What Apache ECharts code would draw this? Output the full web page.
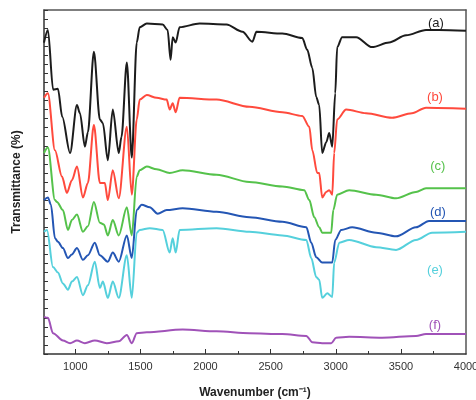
<!DOCTYPE html>
<html><head><meta charset="utf-8">
<script src="https://cdn.jsdelivr.net/npm/echarts@6/dist/echarts.min.js"></script>
<style>html,body{margin:0;padding:0;background:#fff}#c{width:476px;height:400px}</style>
</head><body><div id="c"></div>
<script>
// Spectra: [wavenumber (cm-1), transmittance (offset, arbitrary units)]
const seriesA = [[760,344],[790,358],[830,292],[867,293],[900,262],[960,222],[1013,275],[1036,266],[1074,229],[1097,245],[1143,334],[1189,259],[1212,255],[1250,214],[1288,270],[1334,222],[1355,240],[1396,322],[1434,217],[1472,344],[1495,361],[1549,365],[1671,364],[1709,358],[1732,325],[1748,350],[1771,344],[1801,361],[1955,365],[2161,364],[2284,356],[2360,345],[2391,356],[2590,354],[2743,349],[2781,336],[2820,316],[2850,284],[2873,275],[2896,222],[2927,234],[2950,244],[2973,229],[2996,288],[3011,339],[3049,350],[3157,350],[3279,339],[3409,344],[3540,352],[3693,358],[3792,358],[4000,357]];
const seriesB = [[760,283],[790,288],[844,225],[898,196],[936,178],[974,192],[1013,207],[1059,173],[1097,189],[1143,253],[1189,189],[1227,189],[1250,170],[1288,203],[1334,172],[1396,251],[1434,176],[1472,259],[1495,281],[1549,286],[1625,283],[1702,281],[1725,270],[1748,277],[1771,267],[1801,283],[2085,281],[2337,273],[2590,267],[2743,263],[2797,251],[2820,225],[2858,200],[2873,200],[2896,173],[2927,179],[2950,181],[2973,176],[2988,222],[3011,259],[3080,270],[3233,266],[3432,261],[3585,266],[3693,272],[4000,271]];
const seriesC = [[760,222],[790,228],[844,170],[860,168],[905,159],[944,137],[974,148],[1013,154],[1059,135],[1097,141],[1143,168],[1189,145],[1220,143],[1250,131],[1288,148],[1334,131],[1396,162],[1434,131],[1472,196],[1495,203],[1549,207],[1625,204],[1725,200],[1824,203],[2085,198],[2337,190],[2590,185],[2758,181],[2797,170],[2835,151],[2873,140],[2896,134],[2965,134],[2981,159],[3011,176],[3103,181],[3310,176],[3463,172],[3616,179],[3693,183],[4000,183]];
const seriesD = [[760,170],[790,173],[813,165],[844,128],[867,124],[905,117],[944,106],[974,110],[1013,117],[1059,104],[1097,109],[1150,123],[1189,109],[1250,102],[1288,112],[1334,102],[1396,131],[1434,106],[1472,159],[1510,165],[1572,162],[1633,155],[1702,159],[1824,161],[2085,157],[2337,151],[2590,146],[2774,140],[2812,123],[2850,107],[2896,101],[2973,101],[2996,126],[3042,137],[3126,140],[3310,134],[3463,130],[3616,140],[3716,147],[4000,147]];
const seriesE = [[760,135],[783,137],[829,96],[867,90],[905,78],[944,71],[974,80],[1013,85],[1059,65],[1097,76],[1150,102],[1189,73],[1212,80],[1250,62],[1288,80],[1334,62],[1396,109],[1434,62],[1472,134],[1495,137],[1572,139],[1671,137],[1725,112],[1748,128],[1771,112],[1801,137],[2085,139],[2337,135],[2590,131],[2774,126],[2812,106],[2850,85],[2873,82],[2896,62],[2935,67],[2973,63],[2988,101],[3027,123],[3103,126],[3310,118],[3463,115],[3616,126],[3739,134],[4000,135]];
const seriesF = [[760,41],[790,40],[829,23],[905,15],[960,12],[1013,15],[1074,12],[1150,15],[1242,12],[1334,14],[1396,21],[1434,12],[1472,23],[1549,24],[1824,27],[2085,25],[2337,23],[2590,22],[2774,20],[2820,13],[2896,12],[2965,12],[3003,18],[3103,19],[3356,18],[3616,20],[3693,22],[4000,22]];

const seriesNames = ['(a)','(b)','(c)','(d)','(e)','(f)'];
const seriesColors = ['#1c1c1c','#ff4a3d','#55c24b','#2456b4','#55d0dc','#a052b8'];
const labelX = [3769,3762,3784,3784,3762,3762];
const labelY = [365,283,207,156,92,32];

const xMajorTicks = [1000,1500,2000,2500,3000,3500];
const xMinorTicks = [1250,1750,2250,2750,3250,3750];
const xTickLabels = [1000,1500,2000,2500,3000,3500,4000];

const allData = [seriesA,seriesB,seriesC,seriesD,seriesE,seriesF];
const chart = echarts.init(document.getElementById('c'));
const font = 'Liberation Sans, Arial, sans-serif';
const frame = {axisLabel:{show:false},axisTick:{show:false},splitLine:{show:false},
  axisLine:{show:true,onZero:false,lineStyle:{color:'#555',width:1.5}}};
chart.setOption({
  animation:false,
  backgroundColor:'#fff',
  grid:{left:44,right:10,top:10,bottom:46,outerBoundsMode:'none',containLabel:false},
  xAxis:[{
    type:'value',min:760,max:4000,
    name:'Wavenumber (cm⁻¹)',nameLocation:'middle',nameGap:33,
    nameTextStyle:{fontFamily:font,fontSize:12,fontWeight:'bold',color:'#222'},
    axisLine:{onZero:false,lineStyle:{color:'#333',width:1.5}},
    axisTick:{inside:true,length:5,customValues:xMajorTicks,lineStyle:{color:'#333'}},
    axisLabel:{customValues:xTickLabels,formatter:v=>String(v),fontFamily:font,fontSize:11,color:'#333',margin:7},
    splitLine:{show:false}
  },{
    type:'value',min:760,max:4000,position:'bottom',
    axisLine:{show:false},
    axisTick:{inside:true,length:3,customValues:xMinorTicks,lineStyle:{color:'#333'}},
    axisLabel:{show:false},splitLine:{show:false}
  },{
    type:'value',min:760,max:4000,position:'top',
    axisLabel:frame.axisLabel,axisTick:frame.axisTick,splitLine:frame.splitLine,axisLine:frame.axisLine
  }],
  yAxis:[{
    type:'value',min:0,max:380,interval:10,
    name:'Transmittance (%)',nameLocation:'middle',nameGap:21,
    nameTextStyle:{fontFamily:font,fontSize:12,fontWeight:'bold',color:'#222'},
    axisLine:{show:true,onZero:false,lineStyle:{color:'#333',width:1.5}},
    axisTick:{inside:true,length:4,lineStyle:{color:'#333'}},
    axisLabel:{show:false},splitLine:{show:false}
  },{
    type:'value',min:0,max:380,position:'right',
    axisLabel:frame.axisLabel,axisTick:frame.axisTick,splitLine:frame.splitLine,axisLine:frame.axisLine
  }],
  series: allData.map((d,i)=>({
    type:'line',name:seriesNames[i],data:d,xAxisIndex:0,yAxisIndex:0,
    showSymbol:false,smooth:0.3,smoothMonotone:'x',
    lineStyle:{color:seriesColors[i],width:2},
    markPoint:{symbol:'circle',symbolSize:0,silent:true,
      data:[{coord:[labelX[i],labelY[i]],value:seriesNames[i]}],
      label:{show:true,position:'inside',formatter:seriesNames[i],color:seriesColors[i],fontFamily:font,fontSize:13}}
  }))
});
</script></body></html>
